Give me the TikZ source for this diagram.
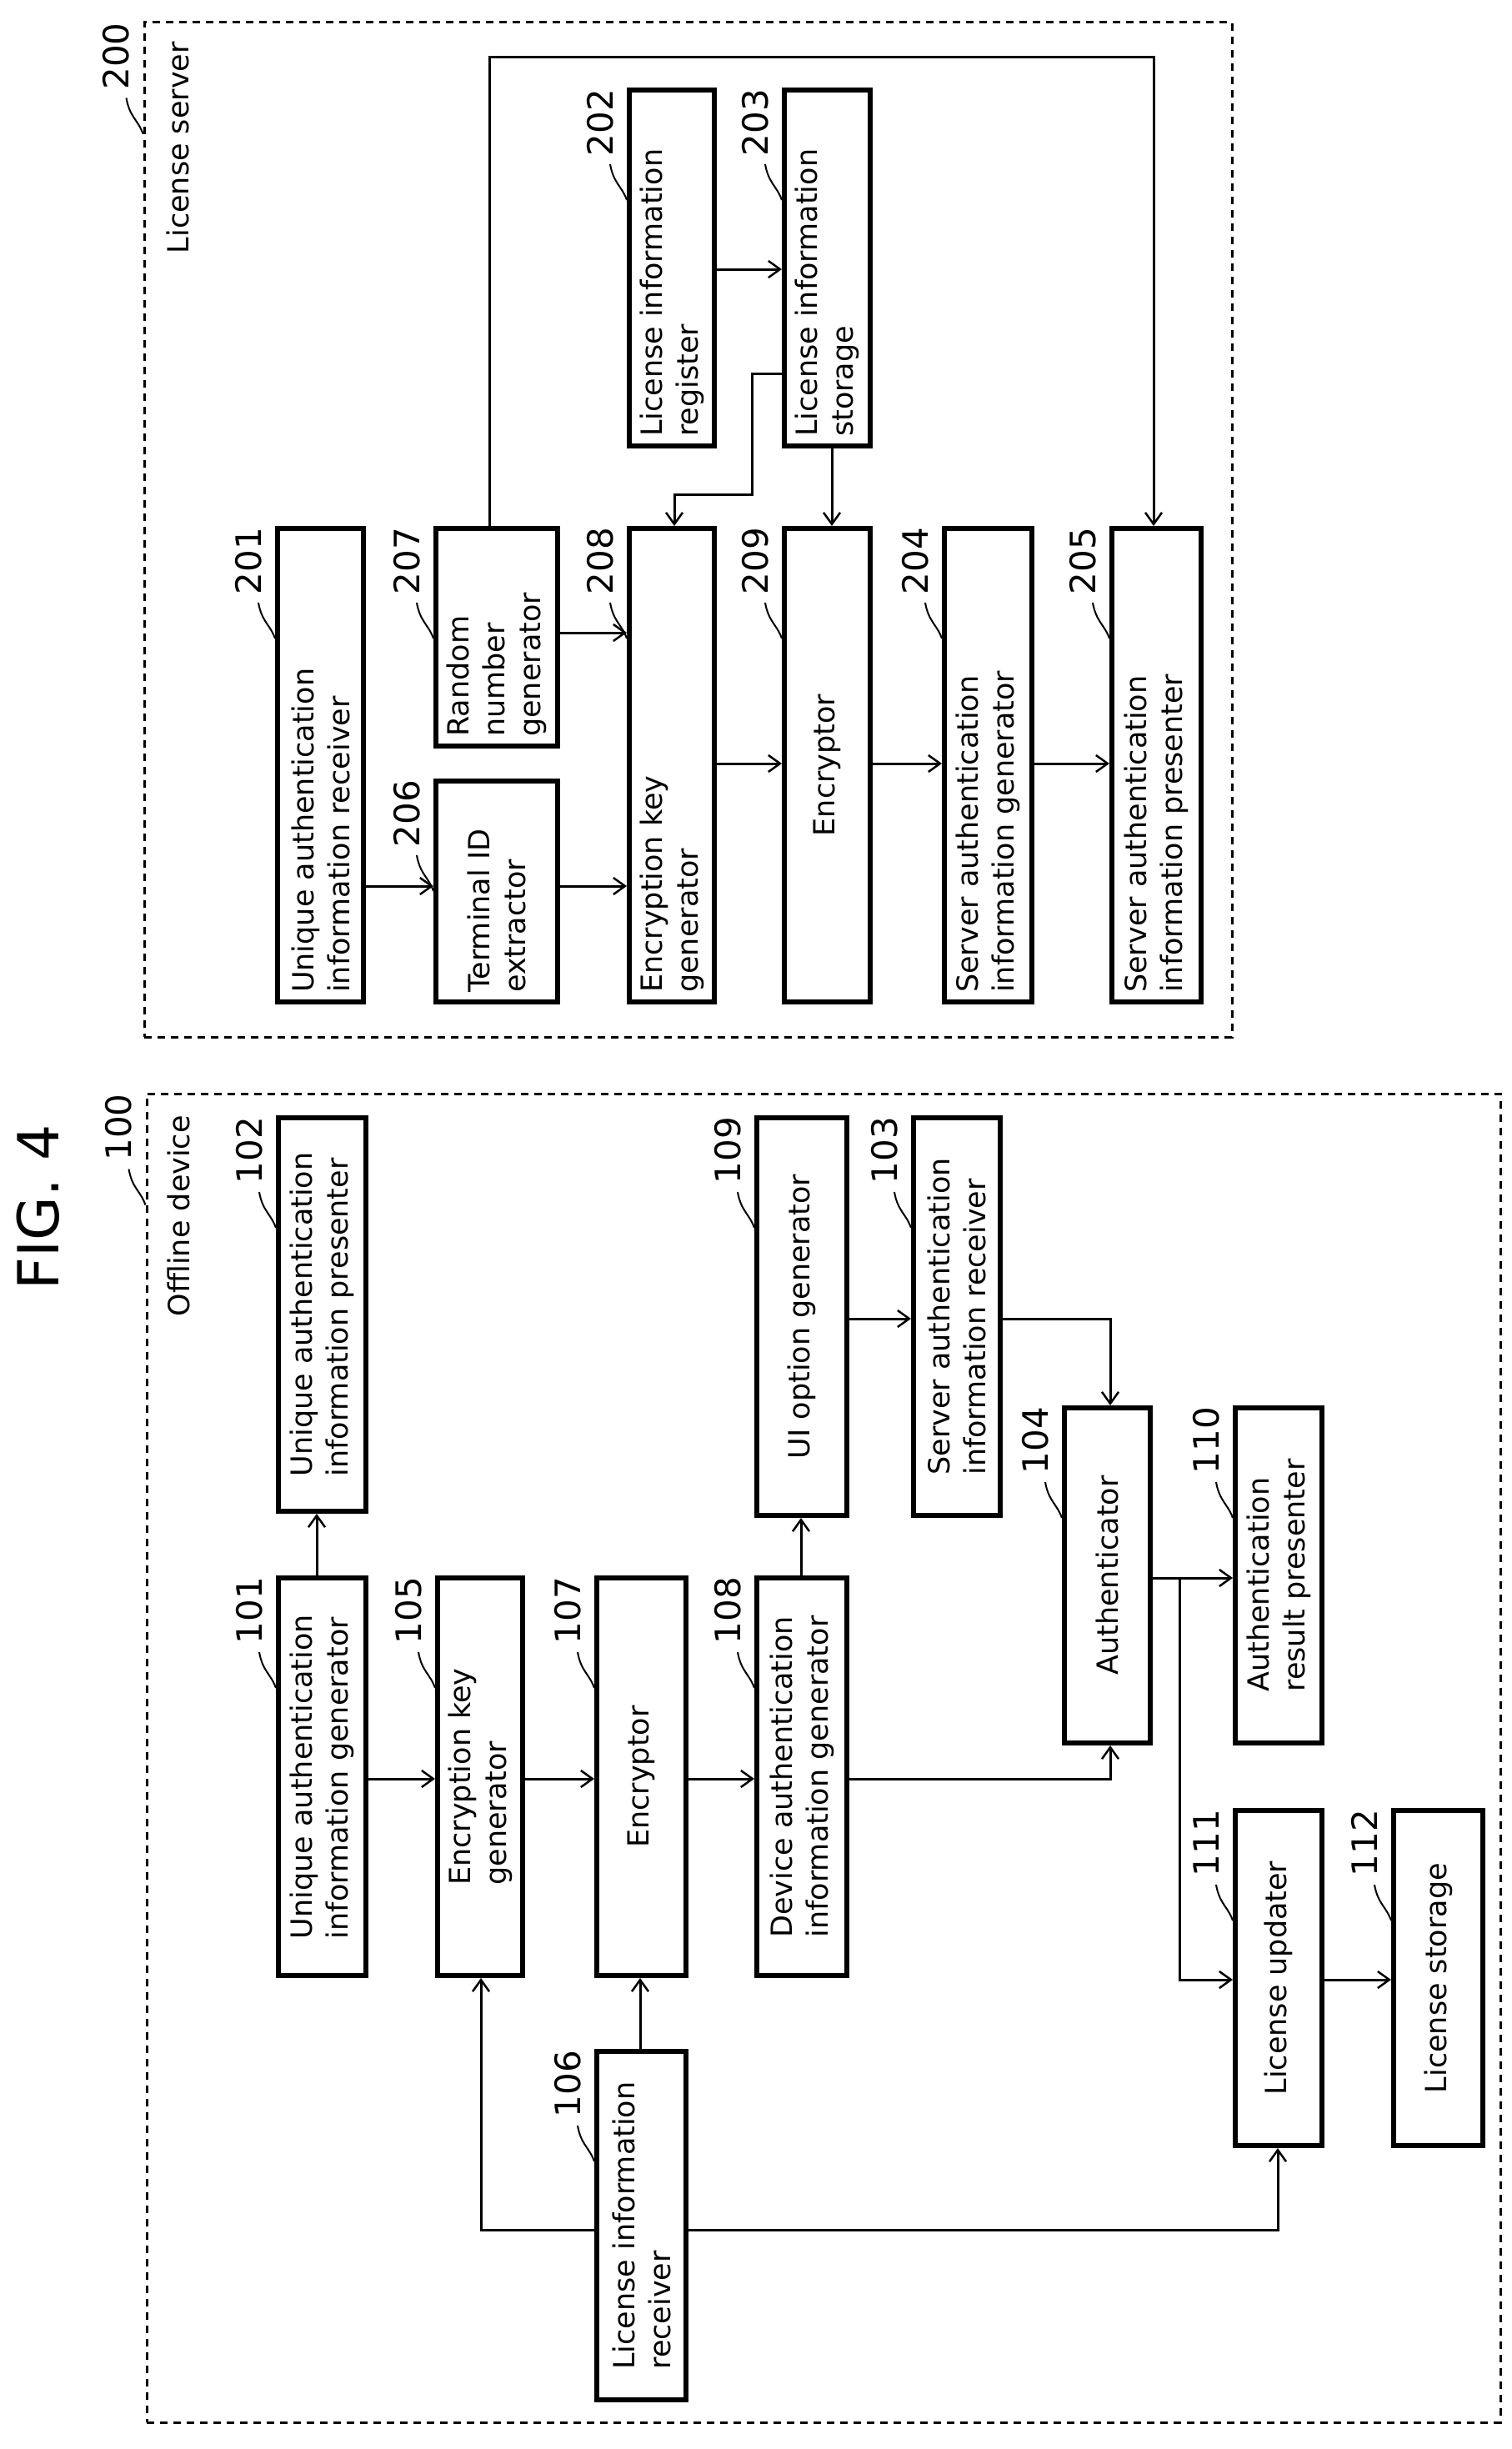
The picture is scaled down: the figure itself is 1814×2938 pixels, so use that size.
\documentclass[tikz,border=0pt]{standalone}
\usepackage{fontspec}
\setmainfont{DejaVu Sans}
\usetikzlibrary{arrows.meta,fit,calc}
\begin{document}
\begin{tikzpicture}[x=1pt,y=-1pt,
  box/.style={draw, line width=6pt, inner sep=0pt},
  grp/.style={draw, line width=3pt, dash pattern=on 9pt off 7pt, inner sep=0pt},
  txt/.style={rotate=90, align=left, font=\fontsize{35}{43}\selectfont, inner sep=0pt},
  num/.style={rotate=90, font=\fontsize{42}{42}\selectfont, inner sep=0pt},
  lead/.style={line width=2pt},
  arr/.style={line width=3pt, -{Straight Barb[length=14pt,width=20pt,line width=2.5pt]}},
  ln/.style={line width=3pt}]
\useasboundingbox (0,0) rectangle (1814,2938);
\newcommand{\bxc}[6]{\node[box, fit={(#2,#3)(#4,#5)}] (#1) {};\node[txt] at (#1.center) {#6};}
\newcommand{\bxb}[6]{\node[box, fit={(#2,#3)(#4,#5)}] (#1) {};\node[txt, anchor=west] at ($(#1.south)+(0,-14)$) {#6};}
\newcommand{\lbl}[2]{\node[num] (l#1) at ($(#1.north west)+(-32,42)$) {#2};
  \draw[lead] ($(#1.north west)+(-20,92)$) .. controls ($(#1.north west)+(-16,115)$) and ($(#1.north west)+(-6,118)$) .. ($(#1.north west)+(0,135)$);}

\node[rotate=90, font=\fontsize{68}{68}\selectfont, inner sep=0pt] (fig) at (46,1448) {FIG. 4};

% groups
\node[grp, fit={(173,27)(1478,1244)}] (g200) {};
\node[grp, fit={(176,1312)(1800,2906)}] (g100) {};
\node[txt, anchor=east] at (213,50) {License server};
\node[txt, anchor=east] at (214,1338) {Offline device};
\lbl{g200}{200}
\lbl{g100}{100}

% server
\bxb{n201}{333}{634}{436}{1202}{Unique authentication\\information receiver}
\bxb{n206}{523}{937}{669}{1202}{Terminal ID\\extractor}
\bxb{n207}{523}{634}{669}{895}{Random\\number\\generator}
\bxb{n202}{755}{108}{857}{535}{License information\\register}
\bxb{n208}{755}{634}{857}{1202}{Encryption key\\generator}
\bxb{n203}{941}{108}{1044}{535}{License information\\storage}
\bxc{n209}{941}{634}{1044}{1202}{Encryptor}
\bxb{n204}{1133}{634}{1238}{1202}{Server authentication\\information generator}
\bxb{n205}{1334}{634}{1441}{1202}{Server authentication\\information presenter}
\lbl{n201}{201}\lbl{n206}{206}\lbl{n207}{207}\lbl{n202}{202}\lbl{n208}{208}
\lbl{n203}{203}\lbl{n209}{209}\lbl{n204}{204}\lbl{n205}{205}

% offline
\bxc{n102}{334}{1341}{439}{1813}{Unique authentication\\information presenter}
\bxc{n101}{334}{1893}{439}{2370}{Unique authentication\\information generator}
\bxc{n105}{525}{1893}{627}{2370}{Encryption key\\generator}
\bxc{n107}{716}{1893}{823}{2370}{Encryptor}
\bxc{n108}{908}{1893}{1016}{2370}{Device authentication\\information generator}
\bxc{n109}{908}{1341}{1016}{1818}{UI option generator}
\bxc{n103}{1096}{1341}{1200}{1818}{Server authentication\\information receiver}
\bxc{n104}{1277}{1689}{1380}{2091}{Authenticator}
\bxc{n110}{1482}{1689}{1586}{2091}{Authentication\\result presenter}
\bxc{n106}{716}{2461}{823}{2879}{License information\\receiver}
\bxc{n111}{1482}{2172}{1586}{2574}{License updater}
\bxc{n112}{1672}{2172}{1779}{2574}{License storage}
\lbl{n102}{102}\lbl{n101}{101}\lbl{n105}{105}\lbl{n107}{107}\lbl{n108}{108}
\lbl{n109}{109}\lbl{n103}{103}\lbl{n104}{104}\lbl{n110}{110}\lbl{n106}{106}
\lbl{n111}{111}\lbl{n112}{112}

% helper coordinates
\coordinate (yA) at (0,1063);
\coordinate (yB) at (0,759);
\coordinate (yC) at (0,916);
\coordinate (yD) at (0,323);
\coordinate (yE) at (0,448);
\coordinate (xF) at (998,0);
\coordinate (xG) at (587,0);
\coordinate (xH) at (809,0);
\coordinate (xI) at (1384,0);
\coordinate (yJ) at (0,2134);
\coordinate (xK) at (380,0);
\coordinate (xL) at (961,0);
\coordinate (yM) at (0,1582);
\coordinate (xN) at (1332,0);
\coordinate (yO) at (0,1893);
\coordinate (yP) at (0,2375);
\coordinate (xQ) at (768,0);
\coordinate (yR) at (0,2675);
\coordinate (xS) at (577,0);
\coordinate (xT) at (1533,0);

% server arrows
\draw[arr] (n201.east |- yA) -- (n206.west |- yA);
\draw[arr] (n206.east |- yA) -- (n208.west |- yA);
\draw[arr] (n207.east |- yB) -- (n208.west |- yB);
\draw[arr] (n208.east |- yC) -- (n209.west |- yC);
\draw[arr] (n209.east |- yC) -- (n204.west |- yC);
\draw[arr] (n204.east |- yC) -- (n205.west |- yC);
\draw[arr] (n202.east |- yD) -- (n203.west |- yD);
\draw[arr] (n203.west |- yE) -- (902,448) -- (902,593) -- (809,593) -- (xH |- n208.north);
\draw[arr] (xF |- n203.south) -- (xF |- n209.north);
\draw[arr] (xG |- n207.north) -- (587,69) -- (1384,69) -- (xI |- n205.north);

% offline arrows
\draw[arr] (xK |- n101.north) -- (xK |- n102.south);
\draw[arr] (n101.east |- yJ) -- (n105.west |- yJ);
\draw[arr] (n105.east |- yJ) -- (n107.west |- yJ);
\draw[arr] (n107.east |- yJ) -- (n108.west |- yJ);
\draw[arr] (xL |- n108.north) -- (xL |- n109.south);
\draw[arr] (n109.east |- yM) -- (n103.west |- yM);
\draw[arr] (n103.east |- yM) -- (1332,1582) -- (xN |- n104.north);
\draw[arr] (n108.east |- yJ) -- (1332,2134) -- (xN |- n104.south);
\draw[arr] (n104.east |- yO) -- (n110.west |- yO);
\draw[arr] (1415,1893) -- (1415,2375) -- (n111.west |- yP);
\draw[arr] (n111.east |- yP) -- (n112.west |- yP);
\draw[arr] (xQ |- n106.north) -- (xQ |- n107.south);
\draw[arr] (n106.west |- yR) -- (577,2675) -- (xS |- n105.south);
\draw[arr] (n106.east |- yR) -- (1533,2675) -- (xT |- n111.south);
\end{tikzpicture}
\end{document}
